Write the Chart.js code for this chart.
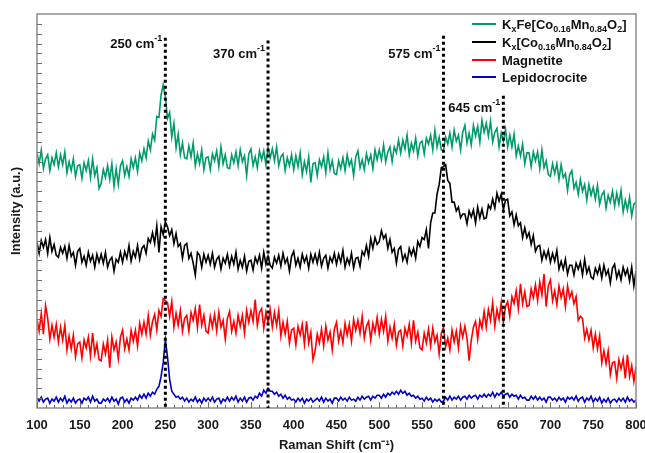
<!DOCTYPE html>
<html>
<head>
<meta charset="utf-8">
<script src="https://cdn.jsdelivr.net/npm/chart.js@4.4.0/dist/chart.umd.min.js"></script>
<style>
html, body { margin: 0; padding: 0; background: #fff; }
</style>
</head>
<body>
<canvas id="myChart" width="645" height="453"></canvas>
<script>
// Raman shift grid (cm-1), one sample every 2.5 cm-1 from 100 to 800
var ramanShift = Array.from({length: 281}, function (_, i) { return 100 + i * 2.5; });

// intensities (stacked, arbitrary units), 10 values per 25 cm-1
var kxFeCoMn = [
    25.9,24.8,26.2,24.3,25.3,25.7,24.1,25.4,24.7,25.9,
    24.5,25.7,24.7,26.0,23.9,25.0,24.1,25.3,23.5,24.6,
    24.7,23.3,24.9,24.1,25.1,23.4,25.3,23.6,24.4,22.3,
    22.8,24.2,23.4,24.6,23.2,24.8,22.5,24.3,22.7,24.6,
    25.1,23.6,24.5,23.5,25.3,24.4,25.4,24.0,25.9,25.1,
    26.3,25.4,27.1,26.2,27.8,27.2,29.6,29.5,31.8,32.8,
    31.6,29.4,30.0,27.5,28.9,26.4,27.8,25.7,26.9,25.4,
    25.3,26.6,25.5,26.9,24.6,25.8,24.8,26.2,24.2,25.4,
    25.5,24.2,25.8,25.1,26.1,24.5,26.5,24.8,25.7,24.4,
    24.3,25.7,24.9,26.0,24.6,26.2,25.0,25.6,23.6,25.8,
    26.3,24.6,25.5,24.4,26.1,25.2,26.1,24.7,26.5,25.4,
    26.3,25.1,26.5,24.6,25.5,25.8,24.1,25.4,24.6,25.7,
    24.2,25.6,24.5,25.9,23.7,25.0,24.0,25.5,22.9,24.8,
    24.9,23.6,25.2,24.5,25.5,23.9,25.9,24.2,25.1,23.8,
    23.7,25.1,24.3,25.4,24.1,25.7,24.6,25.2,23.6,25.5,
    26.1,24.4,25.2,24.2,25.8,24.9,25.7,24.3,26.2,25.2,
    26.2,25.2,26.7,25.0,26.0,26.5,25.0,26.5,25.9,27.2,
    25.9,27.2,26.3,27.7,25.7,26.9,26.1,27.4,25.6,26.9,
    27.1,25.8,27.4,26.8,27.7,26.2,28.2,26.5,27.5,26.2,
    26.1,27.5,26.8,27.9,26.5,28.2,27.1,27.7,26.2,28.0,
    28.7,26.9,27.9,26.7,28.7,27.6,28.6,27.0,29.2,28.0,
    28.9,27.6,29.1,27.0,28.0,28.4,26.5,27.9,27.1,28.3,
    26.5,27.7,26.5,27.8,25.6,26.6,25.6,26.8,24.8,25.9,
    25.9,24.5,26.0,25.1,26.0,24.3,26.2,24.4,25.1,23.7,
    23.5,24.8,23.8,24.8,23.2,24.7,23.4,23.8,22.1,23.7,
    24.1,22.3,22.9,21.7,23.2,22.0,22.7,21.1,22.7,21.6,
    22.4,21.2,22.6,20.7,21.6,22.0,20.3,21.6,20.9,22.0,
    20.5,21.8,20.7,22.1,19.9,21.1,20.1,21.4,19.5,20.7,
    20.9
];
var kxCoMn = [
    16.8,15.7,17.0,16.3,17.1,15.7,17.3,15.9,16.6,15.5,
    15.3,16.3,15.7,16.4,15.2,16.5,15.4,15.8,14.5,15.9,
    16.2,14.8,15.4,14.5,15.8,14.9,15.5,14.3,15.6,14.8,
    15.6,14.7,15.8,14.3,15.0,15.3,13.9,15.1,14.8,15.8,
    14.8,15.9,15.2,16.5,14.9,15.9,15.3,16.5,15.1,16.2,
    16.5,15.7,17.2,16.8,17.8,16.7,18.5,15.8,18.4,17.6,
    18.9,18.4,17.5,18.1,16.7,17.7,16.4,16.7,15.2,16.5,
    16.7,15.2,15.7,14.7,13.5,15.8,15.5,14.3,15.6,14.8,
    15.5,14.6,15.7,14.3,15.1,15.4,14.1,15.2,14.7,15.6,
    14.4,15.4,14.6,15.8,14.1,15.0,14.3,15.4,13.9,14.9,
    15.0,14.0,15.3,14.7,15.5,14.2,15.8,14.6,15.4,14.5,
    14.2,15.3,14.7,15.5,14.4,15.7,14.7,15.2,13.9,15.4,
    15.9,14.5,15.2,14.3,15.6,14.8,15.4,14.2,15.6,14.8,
    15.6,14.7,15.8,14.4,15.2,15.5,14.2,15.3,14.8,15.7,
    14.6,15.6,14.8,16.0,14.3,15.2,14.6,15.7,14.2,15.2,
    15.3,14.4,15.9,15.5,16.5,15.4,17.2,16.2,17.3,16.6,
    16.9,18.0,17.2,17.6,16.2,17.1,15.8,16.2,14.7,16.1,
    16.4,15.0,15.6,14.8,16.2,15.5,16.2,15.2,16.9,16.4,
    17.3,17.1,18.1,16.2,18.8,19.8,19.8,21.7,22.7,24.4,
    24.5,24.7,23.1,22.8,20.9,20.9,20.0,20.4,19.3,19.7,
    19.7,18.7,20.0,19.4,20.1,18.8,20.4,19.3,20.2,19.2,
    19.3,20.6,20.2,21.2,20.3,21.8,21.0,21.7,20.1,21.1,
    21.2,19.5,19.9,18.6,19.6,18.5,18.8,17.3,18.3,17.3,
    17.8,16.6,17.5,15.9,16.4,16.5,15.0,15.9,15.2,16.0,
    14.8,15.7,14.9,16.0,14.1,14.9,14.1,15.1,13.6,14.5,
    14.5,13.5,14.7,14.1,14.8,13.5,15.1,13.7,14.3,13.3,
    13.1,14.2,13.6,14.4,13.2,14.5,13.5,14.0,12.7,14.2,
    14.6,13.2,13.9,13.0,14.3,13.5,14.1,12.9,14.3,12.4,
    13.9
];
var magnetite = [
    9.0,7.8,9.6,7.5,10.4,9.1,7.0,8.4,7.2,8.5,
    6.7,8.2,6.9,8.4,5.9,7.3,6.0,7.4,5.2,6.5,
    6.7,5.1,6.9,6.1,7.2,5.3,7.6,5.5,6.5,4.9,
    4.8,6.5,5.5,6.9,4.1,7.2,5.9,6.7,5.0,7.2,
    7.9,6.0,7.0,5.9,7.9,6.8,7.9,6.3,8.6,7.5,
    8.7,7.5,9.4,7.4,8.8,9.5,7.9,9.9,9.3,11.1,
    10.9,10.7,9.3,10.8,8.2,9.6,8.4,9.9,7.8,9.1,
    9.4,7.8,9.7,8.9,10.1,8.2,10.5,8.4,9.4,7.8,
    7.6,9.3,8.2,9.5,7.8,9.7,8.2,8.9,7.0,9.1,
    9.8,7.8,8.8,7.6,9.4,8.3,9.4,7.6,9.9,8.7,
    9.9,8.8,11.0,8.4,9.7,10.1,8.1,9.7,8.7,10.0,
    8.2,9.7,8.4,9.9,7.3,8.7,7.5,8.8,6.6,7.9,
    8.1,6.4,8.3,7.4,8.5,6.5,8.8,6.6,7.7,4.9,
    5.8,7.5,6.6,8.0,6.3,8.3,6.9,7.7,5.9,8.0,
    8.7,6.8,7.8,6.6,8.6,7.4,8.5,6.8,9.0,7.9,
    8.9,7.6,9.3,7.1,8.3,8.8,6.9,8.6,7.7,9.2,
    7.5,9.0,7.8,9.3,6.8,8.2,7.1,8.5,6.4,7.7,
    7.9,6.3,8.1,7.3,8.5,6.6,8.9,6.8,7.7,6.1,
    5.9,7.6,6.6,8.0,6.3,8.1,6.7,7.4,5.5,7.6,
    8.2,6.2,7.1,5.9,7.9,6.7,7.8,6.1,8.3,7.2,
    8.3,7.1,4.8,6.9,8.2,8.8,7.0,8.9,8.1,9.8,
    8.2,10.0,8.9,10.7,8.3,10.0,9.0,10.7,8.7,10.3,
    10.8,9.3,11.3,10.6,11.9,10.1,12.6,10.6,11.8,10.3,
    10.4,12.1,11.2,12.5,10.9,12.8,11.5,13.6,10.3,12.4,
    13.0,10.9,11.9,10.5,12.4,11.2,12.1,10.3,12.4,11.2,
    11.8,10.6,11.3,8.9,9.3,9.1,7.1,8.0,6.9,7.9,
    6.1,7.5,6.0,7.3,4.6,5.8,4.5,5.8,3.4,4.6,
    4.7,3.0,4.9,4.0,5.0,3.0,5.4,3.2,4.3,2.7,
    4.2
];
var lepidocrocite = [
    1.0,0.7,1.1,0.6,0.9,1.0,0.5,0.9,0.7,1.1,
    0.6,1.0,0.7,1.2,0.5,0.9,0.6,1.0,0.5,0.8,
    0.9,0.5,1.0,0.8,1.1,0.6,1.2,0.7,0.9,0.5,
    0.5,0.9,0.7,1.0,0.6,1.1,0.7,0.9,0.4,1.0,
    1.1,0.6,0.9,0.5,1.0,0.8,1.1,0.8,1.3,1.0,
    1.4,1.0,1.5,1.2,1.6,1.4,1.9,2.2,3.2,4.6,
    6.9,5.2,2.9,1.7,1.4,1.1,1.2,0.9,1.1,0.7,
    1.0,0.6,0.9,0.7,1.1,0.6,0.9,0.5,1.0,0.7,
    1.0,0.7,1.1,0.6,0.9,1.0,0.5,0.9,0.7,1.1,
    0.7,1.1,0.8,1.2,0.6,1.0,0.7,1.1,0.6,1.0,
    1.1,0.8,1.2,1.0,1.5,1.2,1.8,1.5,2.0,1.7,
    1.7,1.4,1.6,1.2,1.4,1.0,1.3,0.9,1.1,0.8,
    0.9,0.6,1.0,0.7,1.0,0.5,0.9,0.7,1.0,0.6,
    0.8,1.0,0.7,1.1,0.6,1.0,0.7,0.9,0.5,1.0,
    1.0,0.7,1.1,0.8,1.0,0.7,1.1,0.8,0.9,0.7,
    1.1,0.8,1.2,0.9,1.1,1.2,0.8,1.2,1.0,1.3,
    1.3,1.0,1.4,1.1,1.5,1.3,1.6,1.4,1.7,1.4,
    1.8,1.5,1.7,1.3,1.5,1.2,1.3,1.0,1.2,0.9,
    1.0,0.7,1.1,0.8,1.0,0.6,0.9,0.7,0.9,0.6,
    0.7,1.1,0.8,1.2,0.8,1.1,0.9,1.2,0.8,1.1,
    1.2,0.9,1.3,1.0,1.2,1.3,0.9,1.3,1.1,1.4,
    1.1,1.4,1.2,1.6,1.1,1.5,1.3,1.6,1.2,1.4,
    1.5,1.1,1.4,1.2,1.3,0.9,1.3,1.0,1.1,0.8,
    0.8,1.2,0.9,1.2,0.8,1.1,0.8,1.0,0.6,1.1,
    1.1,0.8,1.0,0.7,1.1,0.8,1.0,0.6,1.1,0.9,
    1.1,0.8,1.2,0.7,1.0,1.1,0.6,1.0,0.8,1.2,
    0.6,1.0,0.7,1.1,0.5,0.9,0.6,1.0,0.5,0.8,
    0.9,0.6,1.0,0.7,1.0,0.6,1.1,0.7,0.9,0.6,
    0.8
];

var xTicks = [100,150,200,250,300,350,400,450,500,550,600,650,700,750,800];
var peakShifts = [250, 370, 575, 645];

var FONT = '"Liberation Sans", Arial, sans-serif';

// legend names as text pieces: [text, mode] with mode '', 'sub' or 'sup'
var seriesNames = [
    [['K'],['x','sub'],['Fe[Co'],['0.16','sub'],['Mn'],['0.84','sub'],['O'],['2','sub'],[']']],
    [['K'],['x','sub'],['[Co'],['0.16','sub'],['Mn'],['0.84','sub'],['O'],['2','sub'],[']']],
    [['Magnetite']],
    [['Lepidocrocite']]
];
var seriesColors = ['#009b6b', '#000000', '#ff0000', '#0000c8'];

function setFont(ctx, mode) {
    ctx.font = mode ? 'bold 9px ' + FONT : 'bold 13px ' + FONT;
}
function richWidth(ctx, parts) {
    var w = 0;
    parts.forEach(function (p) { setFont(ctx, p[1]); w += ctx.measureText(p[0]).width; });
    return w;
}
function drawRich(ctx, parts, x, y, align) {
    if (align === 'right') x -= richWidth(ctx, parts);
    ctx.textAlign = 'left';
    ctx.textBaseline = 'alphabetic';
    parts.forEach(function (p) {
        setFont(ctx, p[1]);
        var dy = p[1] === 'sub' ? 3.5 : (p[1] === 'sup' ? -6.5 : 0);
        ctx.fillText(p[0], x, y + dy);
        x += ctx.measureText(p[0]).width;
    });
}

var overlay = {
    id: 'overlay',
    afterDatasetsDraw: function (chart) {
        var ctx = chart.ctx, a = chart.chartArea, x = chart.scales.x, y = chart.scales.y;
        ctx.save();
        // frame
        ctx.strokeStyle = '#8c8c8c';
        ctx.lineWidth = 1.5;
        ctx.strokeRect(a.left, a.top, a.right - a.left, a.bottom - a.top);
        // inward ticks
        ctx.strokeStyle = '#6e6e6e';
        ctx.lineWidth = 1;
        ctx.beginPath();
        for (var v = 100; v <= 800; v += 10) {
            var px = Math.round(x.getPixelForValue(v)) + 0.5;
            var len = v % 50 === 0 ? 6 : 3;
            ctx.moveTo(px, a.bottom);
            ctx.lineTo(px, a.bottom - len);
        }
        for (var k = 1; k < 40; k++) {
            var py = Math.round(y.getPixelForValue(k)) + 0.5;
            ctx.moveTo(a.left, py);
            ctx.lineTo(a.left + 5, py);
        }
        ctx.stroke();

        // dotted peak markers
        var tops = [37.6, 37.3, 37.8, 31.7];
        var labelY = [47.5, 57.5, 57.5, 111.5];
        ctx.strokeStyle = '#000';
        ctx.fillStyle = '#111';
        ctx.lineWidth = 3;
        ctx.setLineDash([3, 3]);
        peakShifts.forEach(function (s, i) {
            var px = x.getPixelForValue(s);
            ctx.beginPath();
            ctx.moveTo(px, y.getPixelForValue(tops[i]));
            ctx.lineTo(px, a.bottom);
            ctx.stroke();
            drawRich(ctx, [[s + ' cm'], ['-1', 'sup']], px - 3, labelY[i], 'right');
        });
        ctx.setLineDash([]);

        // legend
        var rowY = [24, 42, 60, 77];
        seriesNames.forEach(function (parts, i) {
            ctx.strokeStyle = seriesColors[i];
            ctx.lineWidth = 2;
            ctx.beginPath();
            ctx.moveTo(472, rowY[i]);
            ctx.lineTo(496, rowY[i]);
            ctx.stroke();
            ctx.fillStyle = '#111';
            drawRich(ctx, parts, 502, rowY[i] + 4.5, 'left');
        });
        ctx.restore();
    }
};

function toPoints(values) {
    return values.map(function (v, i) { return {x: ramanShift[i], y: v}; });
}
function series(label, values, color) {
    return {
        label: label,
        data: toPoints(values),
        borderColor: color,
        backgroundColor: color,
        borderWidth: 1.6,
        pointRadius: 0,
        tension: 0,
        fill: false
    };
}

var ctx = document.getElementById('myChart').getContext('2d');
var myChart = new Chart(ctx, {
    type: 'line',
    data: {
        datasets: [
            series('KxFe[Co0.16Mn0.84O2]', kxFeCoMn, seriesColors[0]),
            series('Kx[Co0.16Mn0.84O2]', kxCoMn, seriesColors[1]),
            series('Magnetite', magnetite, seriesColors[2]),
            series('Lepidocrocite', lepidocrocite, seriesColors[3])
        ]
    },
    options: {
        responsive: false,
        animation: false,
        devicePixelRatio: 1,
        layout: { padding: { top: 14, right: 9, left: 0, bottom: 0 } },
        plugins: {
            legend: { display: false },
            tooltip: { enabled: false }
        },
        scales: {
            x: {
                type: 'linear',
                min: 100,
                max: 800,
                afterBuildTicks: function (s) { s.ticks = xTicks.map(function (v) { return {value: v}; }); },
                afterFit: function (s) { s.height = 45; s.paddingLeft = 0; s.paddingRight = 0; },
                grid: { display: false, drawTicks: false },
                border: { display: false },
                ticks: {
                    autoSkip: false,
                    maxRotation: 0,
                    padding: 10,
                    color: '#1a1a1a',
                    font: { family: FONT, size: 13, weight: 'bold' }
                },
                title: {
                    display: true,
                    text: 'Raman Shift (cm\u207B\u00B9)',
                    color: '#1a1a1a',
                    padding: { top: 0, bottom: 0 },
                    font: { family: FONT, size: 13, weight: 'bold' }
                }
            },
            y: {
                min: 0,
                max: 40,
                afterFit: function (s) { s.width = 37; },
                grid: { display: false, drawTicks: false },
                border: { display: false },
                ticks: { display: false },
                title: {
                    display: true,
                    text: 'Intensity (a.u.)',
                    color: '#1a1a1a',
                    padding: { top: 9, bottom: 0 },
                    font: { family: FONT, size: 13, weight: 'bold' }
                }
            }
        }
    },
    plugins: [overlay]
});
</script>
</body>
</html>
